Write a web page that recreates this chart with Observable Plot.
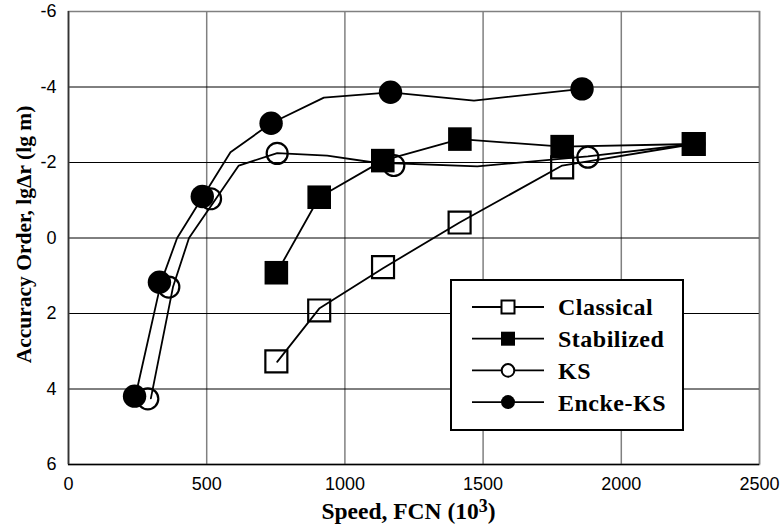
<!DOCTYPE html>
<html><head><meta charset="utf-8">
<script src="https://cdn.jsdelivr.net/npm/d3@7"></script>
<script src="https://cdn.jsdelivr.net/npm/@observablehq/plot@0.6"></script>
<style>
body{margin:0;background:#fff;}
#wrap{position:relative;width:782px;height:528px;}
#legend{position:absolute;left:450px;top:279px;}
</style></head><body><div id="wrap"><div id="legend"></div></div>
<script>
const seriesNames = ["Classical", "Stabilized", "KS", "Encke-KS"];
// marker positions
const classicalX = [752, 907, 1138, 1415, 1786, 2262];
const classicalY = [3.27, 1.92, 0.77, -0.41, -1.87, -2.49];
const stabilizedX = [752, 907, 1137, 1416, 1786, 2262];
const stabilizedY = [0.92, -1.08, -2.05, -2.62, -2.42, -2.49];
const ksX = [287, 363, 514, 755, 1177, 1879, 2262];
const ksY = [4.26, 1.30, -1.04, -2.24, -1.92, -2.14, -2.49];
const enckeX = [239, 329, 484, 733, 1165, 1858];
const enckeY = [4.19, 1.17, -1.10, -3.04, -3.86, -3.95];
// line vertices
const classicalLineX = [755, 907, 1138, 1415, 1786, 2262];
const classicalLineY = [3.28, 1.87, 0.80, -0.41, -1.92, -2.49];
const stabilizedLineX = [755, 907, 1137, 1416, 1786, 2262];
const stabilizedLineY = [0.90, -1.08, -2.05, -2.62, -2.42, -2.49];
const ksLineX = [298, 378, 436, 616, 755, 936, 1105, 1479, 1879, 2262];
const ksLineY = [4.25, 1.30, 0, -1.92, -2.25, -2.18, -2.00, -1.90, -2.16, -2.49];
const enckeLineX = [242, 335, 393, 586, 733, 924, 1165, 1467, 1858];
const enckeLineY = [4.20, 1.17, 0, -2.27, -3.04, -3.72, -3.86, -3.64, -3.95];
const xTicks = [0, 500, 1000, 1500, 2000, 2500];
const yTicks = [-6, -4, -2, 0, 2, 4, 6];
const xTitle = ["Speed, FCN (10", "3", ")"];
const yTitle = "Accuracy Order, lgΔr (lg m)";

const rows = (xs, ys) => xs.map((x, i) => ({x, y: ys[i]}));
const serif = "'Liberation Serif','Times New Roman',serif";

const plot = Plot.plot({
  width: 782, height: 528,
  marginLeft: 68, marginRight: 23, marginTop: 11, marginBottom: 64,
  style: {fontFamily: "'Liberation Sans', Arial, sans-serif", fontSize: "18px", background: "#fff", color: "#000"},
  x: {domain: [0, 2500], label: null},
  y: {domain: [6, -6], label: null},
  marks: [
    Plot.gridX(xTicks, {stroke: "#808080", strokeOpacity: 1, strokeWidth: 1.5}),
    Plot.gridY(yTicks, {stroke: "#000", strokeOpacity: 1, strokeWidth: 1}),
    Plot.frame({stroke: "#808080", strokeWidth: 1.5}),
    Plot.ruleY([6], {stroke: "#000", strokeWidth: 1.5}),
    Plot.ruleX([0], {stroke: "#333", strokeWidth: 1.5}),
    Plot.axisX(xTicks, {tickSize: 0, tickPadding: 13, label: null, tickFormat: d => String(d), fill: "#000"}),
    Plot.axisY(yTicks, {tickSize: 0, tickPadding: 12, label: null, tickFormat: d => String(d), fill: "#000"}),
    Plot.line(rows(classicalLineX, classicalLineY), {x: "x", y: "y", stroke: "#000", strokeWidth: 1.8}),
    Plot.line(rows(stabilizedLineX, stabilizedLineY), {x: "x", y: "y", stroke: "#000", strokeWidth: 1.8}),
    Plot.line(rows(ksLineX, ksLineY), {x: "x", y: "y", stroke: "#000", strokeWidth: 1.8}),
    Plot.line(rows(enckeLineX, enckeLineY), {x: "x", y: "y", stroke: "#000", strokeWidth: 1.8}),
    Plot.dot(rows(classicalX, classicalY), {x: "x", y: "y", symbol: "square", r: 12.4, fill: "none", stroke: "#000", strokeWidth: 2.2}),
    Plot.dot(rows(ksX, ksY), {x: "x", y: "y", symbol: "circle", r: 10.5, fill: "none", stroke: "#000", strokeWidth: 2.2}),
    Plot.dot(rows(stabilizedX, stabilizedY), {x: "x", y: "y", symbol: "square", r: 13.3, fill: "#000", stroke: "none"}),
    Plot.dot(rows(enckeX, enckeY), {x: "x", y: "y", symbol: "circle", r: 11.7, fill: "#000", stroke: "none"})
  ]
});
document.getElementById("wrap").prepend(plot);

const svg = d3.select(plot);
const xs = plot.scale("x").range, ys = plot.scale("y").range;
const xt = svg.append("text")
  .attr("x", (xs[0] + xs[1]) / 2 - 5).attr("y", 519)
  .attr("text-anchor", "middle").attr("fill", "#000")
  .style("font-family", serif).style("font-weight", "bold").style("font-size", "23.5px");
xt.append("tspan").text(xTitle[0]);
xt.append("tspan").attr("dy", -7).style("font-size", "18px").text(xTitle[1]);
xt.append("tspan").attr("dy", 7).text(xTitle[2]);
svg.append("text")
  .attr("transform", `translate(31,${(ys[0] + ys[1]) / 2 - 3}) rotate(-90)`)
  .attr("text-anchor", "middle").attr("fill", "#000")
  .style("font-family", serif).style("font-weight", "bold").style("font-size", "21.5px")
  .text(yTitle);

// legend
const lw = 234, lh = 152;
const lsvg = d3.select("#legend").append("svg").attr("width", lw).attr("height", lh);
lsvg.append("rect").attr("x", 1).attr("y", 1).attr("width", lw - 2).attr("height", lh - 2)
  .attr("fill", "#fff").attr("stroke", "#000").attr("stroke-width", 2);
const styles = [
  {sym: d3.symbolSquare, size: 13 * 13, fill: "#fff", stroke: "#000"},
  {sym: d3.symbolSquare, size: 14 * 14, fill: "#000", stroke: "none"},
  {sym: d3.symbolCircle, size: Math.PI * 6.3 * 6.3, fill: "#fff", stroke: "#000"},
  {sym: d3.symbolCircle, size: Math.PI * 7 * 7, fill: "#000", stroke: "none"}
];
seriesNames.forEach((name, i) => {
  const cy = 28 + i * 31.7;
  const g = lsvg.append("g");
  g.append("line").attr("x1", 22).attr("x2", 94).attr("y1", cy).attr("y2", cy)
    .attr("stroke", "#000").attr("stroke-width", 1.8);
  g.append("path").attr("d", d3.symbol(styles[i].sym, styles[i].size)())
    .attr("transform", `translate(58,${cy})`)
    .attr("fill", styles[i].fill).attr("stroke", styles[i].stroke).attr("stroke-width", 2);
  g.append("text").attr("x", 108).attr("y", cy).attr("dy", "0.35em").attr("fill", "#000")
    .style("font-family", serif).style("font-weight", "bold").style("font-size", "24px")
    .style("letter-spacing", "0.5px").text(name);
});
</script></body></html>
